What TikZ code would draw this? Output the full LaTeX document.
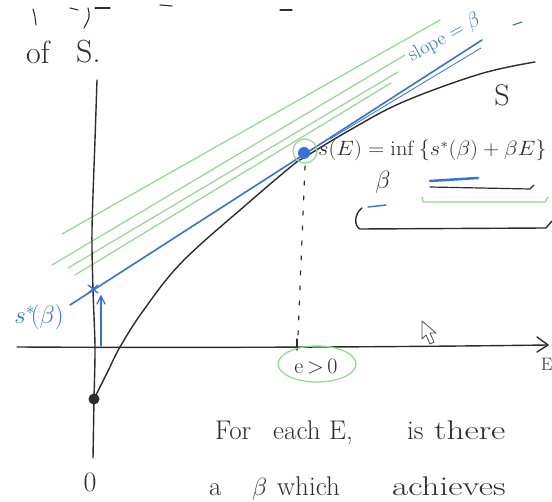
\documentclass[tikz,border=0pt]{standalone}
\usetikzlibrary{arrows.meta,calc}
\definecolor{ink}{RGB}{45,45,45}
\definecolor{pen}{RGB}{55,115,215}
\definecolor{hl}{RGB}{145,218,140}
\begin{document}
\begin{tikzpicture}[x=1pt,y=-1pt,
  inkline/.style={draw=ink,line width=1.4pt,line cap=round,line join=round},
  penline/.style={draw=pen,line width=1.6pt,line cap=round,line join=round},
  hlline/.style={draw=hl,line width=1.2pt,line cap=round,line join=round},
  hand/.style={text=ink,font=\fontsize{27}{30}\selectfont,inner sep=0pt},
  penlabel/.style={text=pen,inner sep=0pt}]
\useasboundingbox[fill=white] (0,0) rectangle (552,502);

% cut-off fragments of the line above
\draw[inkline,line width=1.1pt] (33,9) .. controls (35,16) .. (36,25);
\draw[inkline,line width=1.1pt] (88,8) .. controls (90,17) .. (84,28);
\draw[inkline,line width=1.1pt] (70,8) -- (78,10);
\draw[inkline,line width=1.1pt] (95,8) -- (110,8);
\draw[inkline,line width=1.1pt] (160,5) -- (172,6);
\draw[inkline,line width=1.1pt] (280,10) -- (292,10);

% "of S."
\node[hand,font=\fontsize{32}{34}\selectfont,anchor=base west] (of) at (26,64) {of};
\node[hand,font=\fontsize{32}{34}\selectfont,anchor=base west] (sdot) at (76,63) {S.};

% green parallel lines
\coordinate (g1a) at (62,234);  \coordinate (g1b) at (440,20);
\coordinate (g2a) at (52,265);  \coordinate (g2b) at (405,55);
\coordinate (g3a) at (68,268);  \coordinate (g3b) at (398,72);
\coordinate (g4a) at (75,275);  \coordinate (g4b) at (391,83);
\draw[hlline] (g1a) -- (g1b);
\draw[hlline] (g2a) -- (g2b);
\draw[hlline] (g3a) -- (g3b);
\draw[hlline] (g4a) -- (g4b);

% axes
\coordinate (vtop) at (97,80);
\coordinate (vbot) at (93,458);
\draw[inkline] plot[smooth] coordinates {(vtop) (95,140) (92,230) (93,290) (95,347) (94,400) (vbot)};
\coordinate (hleft) at (17,347);
\coordinate (hright) at (548,345);
\draw[inkline] (hleft) .. controls (200,348) and (400,347) .. (hright);
\draw[inkline] (537,337) -- (hright) -- (537,352);
\node[hand,font=\fontsize{18}{20}\selectfont,anchor=west] (elabel) at (541,364) {E};

% curve S
\draw[inkline] plot[smooth,tension=0.6] coordinates {(94,399) (108,371) (120,347) (143,311) (182,262) (247,204) (293,165) (305,157) (350,130) (403,102) (480,74) (535,62)};
\node[hand,font=\fontsize{30}{32}\selectfont] (slabel) at (502,95) {S};

% tangent line
\coordinate (ta) at (70,305);
\coordinate (tb) at (482,40);
\draw[penline] (ta) -- (tb);
\draw[penline,line width=0.8pt] (330,139) -- (481,48);
\draw[penline,line width=1.2pt] (513,25) -- (522,22);
\node[penlabel,font=\fontsize{20}{22}\selectfont,rotate=29,anchor=base west] (slope) at (412,62) {slope = $\beta$};

% intercept
\coordinate (ic) at (93,289);
\draw[penline,line width=1.2pt] ($(ic)+(-5,-4)$) -- ($(ic)+(5,4)$);
\draw[penline,line width=1.2pt] ($(ic)+(-5,4)$) -- ($(ic)+(5,-4)$);
\coordinate (arrb) at (101,346);
\coordinate (arrt) at (101,296);
\draw[penline,line width=1.2pt] (arrb) -- (arrt);
\draw[penline,line width=1.2pt] (97,304) -- (arrt) -- (105,304);
\node[penlabel,font=\fontsize{24}{26}\selectfont] (sstar) at (39,317) {$s^{*}\!(\beta)$};

% tangent point
\coordinate (tp) at (304,153);
\draw[hlline] (305,151) circle[radius=12];
\fill[pen] (tp) circle[radius=6];
\coordinate (dtop) at (305,166);
\coordinate (dbot) at (298,336);
\draw[ink,line width=1.2pt,line cap=round,dash pattern=on 4pt off 11pt] (dtop) -- (dbot);
\draw[inkline,line width=1.2pt] (297,339) -- (297,350);
\draw[hlline] (317,364) ellipse[x radius=39, y radius=18];
\node[hand,font=\fontsize{22}{24}\selectfont] (epos) at (316,367) {e\,>\,0};

% origin
\fill[ink] (94,399) circle[radius=5.5];
\node[hand,font=\fontsize{28}{30}\selectfont] (zero) at (90,482) {0};

% formula
\node[hand,font=\fontsize{22.5}{27}\selectfont,anchor=base west] (formula) at (318,156)
  {\scalebox{1.08}[1]{$s(E)=\mathrm{inf}\,\Big\{s^{*}(\beta)+\beta E\Big\}$}};
\node[hand,font=\fontsize{24}{28}\selectfont] (binf) at (383,182) {$\beta$};
\draw[penline,line width=2.5pt] (430,181) -- (478,178);
\draw[inkline,line width=1.2pt] (430,187) -- (530,189) -- (534,185);
\draw[hlline] (422,197) -- (423,202) -- (545,202) -- (548,197);
\draw[penline,line width=1.4pt] (368,207) -- (386,205);
\draw[inkline] (362,208) .. controls (354,214) and (354,226) .. (360,229) -- (546,228) -- (552,221);

% cursor
\draw[fill=white,draw=gray!60!black,line width=0.8pt,line join=round] (422,321) -- (422,339) -- (426,335) -- (430,344) -- (434,342) -- (430,333) -- (436,333) -- cycle;

% bottom text
\node[hand,anchor=base west] (w1) at (215,440) {For};
\node[hand,anchor=base west] (w2) at (273,440) {each};
\node[hand,anchor=base west] (w3) at (329,440) {E,};
\node[hand,anchor=base west] (w4) at (407,440) {is};
\node[hand,anchor=base west] (w5) at (434,440) {\scalebox{1.3}[1]{there}};
\node[hand,anchor=base west] (w6) at (209,496) {a};
\node[hand,anchor=base west] (w7) at (252,496) {$\beta$};
\node[hand,anchor=base west] (w8) at (277,496) {which};
\node[hand,anchor=base west] (w9) at (392,496) {\scalebox{1.3}[1]{achieves}};
\end{tikzpicture}
\end{document}
